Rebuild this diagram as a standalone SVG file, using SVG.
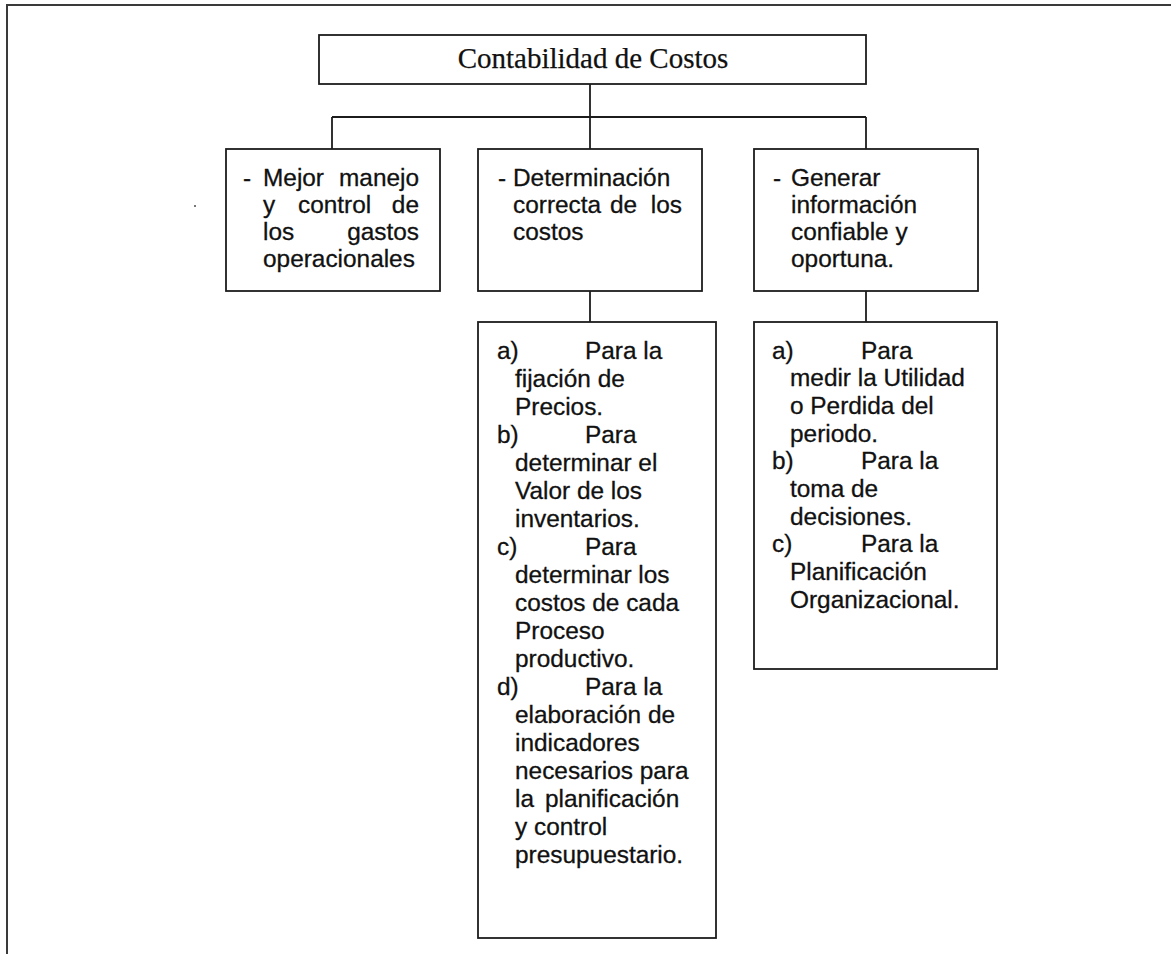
<svg xmlns="http://www.w3.org/2000/svg" width="1171" height="954" viewBox="0 0 1171 954">
  <style>
    .frame { fill: none; stroke: #3a3a3a; stroke-width: 2; }
    .box { fill: #ffffff; stroke: #1c1c1c; stroke-width: 1.8; }
    .link { fill: none; stroke: #1c1c1c; stroke-width: 1.8; }
    .title { font-family: "Liberation Serif", "Times New Roman", serif; font-size: 29px; fill: #111; stroke: #111; stroke-width: 0.25; }
    .t { font-family: "Liberation Sans", Arial, sans-serif; font-size: 24.4px; fill: #111; stroke: #111; stroke-width: 0.3; }
    .end { text-anchor: end; }
  </style>

  <rect width="1171" height="954" fill="#ffffff"/>

  <!-- page border (top and left edges only) -->
  <path class="frame" d="M7,954 V5 H1171"/>
  <rect x="194" y="205" width="2" height="2" fill="#777"/>

  <!-- connectors -->
  <g id="connectors">
    <path class="link" d="M590,84 V117"/>
    <path class="link" d="M332,117 H866"/>
    <path class="link" d="M332,117 V149"/>
    <path class="link" d="M590,117 V149"/>
    <path class="link" d="M866,117 V149"/>
    <path class="link" d="M590,291 V322"/>
    <path class="link" d="M866,291 V322"/>
  </g>

  <!-- root -->
  <g id="root">
    <rect class="box" x="319" y="35" width="547" height="49"/>
    <text class="title" x="593" y="68" text-anchor="middle">Contabilidad de Costos</text>
  </g>

  <!-- objective 1 -->
  <g id="objetivo-gastos">
    <rect class="box" x="226" y="149" width="214" height="142"/>
    <text class="t" y="186"><tspan x="243">-</tspan><tspan x="263">Mejor</tspan></text>
    <text class="t end" x="419" y="186">manejo</text>
    <text class="t" y="213"><tspan x="263">y</tspan><tspan x="298">control</tspan></text>
    <text class="t end" x="419" y="213">de</text>
    <text class="t" x="263" y="240">los</text>
    <text class="t end" x="419" y="240">gastos</text>
    <text class="t" x="263" y="267">operacionales</text>
  </g>

  <!-- objective 2 -->
  <g id="objetivo-costos">
    <rect class="box" x="478" y="149" width="224" height="142"/>
    <text class="t" y="186"><tspan x="498">-</tspan><tspan x="513">Determinación</tspan></text>
    <text class="t" y="213"><tspan x="513">correcta</tspan><tspan x="610">de</tspan></text>
    <text class="t end" x="682" y="213">los</text>
    <text class="t" x="513" y="240">costos</text>
  </g>

  <!-- objective 3 -->
  <g id="objetivo-informacion">
    <rect class="box" x="754" y="149" width="224" height="142"/>
    <text class="t" y="186"><tspan x="773">-</tspan><tspan x="791">Generar</tspan></text>
    <text class="t" x="791" y="213">información</text>
    <text class="t" x="791" y="240">confiable y</text>
    <text class="t" x="791" y="267">oportuna.</text>
  </g>

  <!-- uses of cost determination -->
  <g id="usos-costos">
    <rect class="box" x="478" y="322" width="238" height="616"/>
    <text class="t" y="358.5"><tspan x="497">a)</tspan><tspan x="585">Para la</tspan></text>
    <text class="t" x="515" y="386.5">fijación de</text>
    <text class="t" x="515" y="414.6">Precios.</text>
    <text class="t" y="442.6"><tspan x="497">b)</tspan><tspan x="585">Para</tspan></text>
    <text class="t" x="515" y="470.7">determinar el</text>
    <text class="t" x="515" y="498.7">Valor de los</text>
    <text class="t" x="515" y="526.8">inventarios.</text>
    <text class="t" y="554.8"><tspan x="497">c)</tspan><tspan x="585">Para</tspan></text>
    <text class="t" x="515" y="582.9">determinar los</text>
    <text class="t" x="515" y="610.9">costos de cada</text>
    <text class="t" x="515" y="639">Proceso</text>
    <text class="t" x="515" y="667">productivo.</text>
    <text class="t" y="695.1"><tspan x="497">d)</tspan><tspan x="585">Para la</tspan></text>
    <text class="t" x="515" y="723.1">elaboración de</text>
    <text class="t" x="515" y="751.2">indicadores</text>
    <text class="t" x="515" y="779.2">necesarios para</text>
    <text class="t" y="807.3"><tspan x="515">la</tspan><tspan x="545">planificación</tspan></text>
    <text class="t" x="515" y="835.3">y control</text>
    <text class="t" x="515" y="863.4">presupuestario.</text>
  </g>

  <!-- uses of information -->
  <g id="usos-informacion">
    <rect class="box" x="754" y="322" width="243" height="347"/>
    <text class="t" y="358.5"><tspan x="772">a)</tspan><tspan x="861">Para</tspan></text>
    <text class="t" x="790" y="386.2">medir la Utilidad</text>
    <text class="t" x="790" y="413.9">o Perdida del</text>
    <text class="t" x="790" y="441.6">periodo.</text>
    <text class="t" y="469.3"><tspan x="772">b)</tspan><tspan x="861">Para la</tspan></text>
    <text class="t" x="790" y="497">toma de</text>
    <text class="t" x="790" y="524.7">decisiones.</text>
    <text class="t" y="552.4"><tspan x="772">c)</tspan><tspan x="861">Para la</tspan></text>
    <text class="t" x="790" y="580.1">Planificación</text>
    <text class="t" x="790" y="607.8">Organizacional.</text>
  </g>
</svg>
